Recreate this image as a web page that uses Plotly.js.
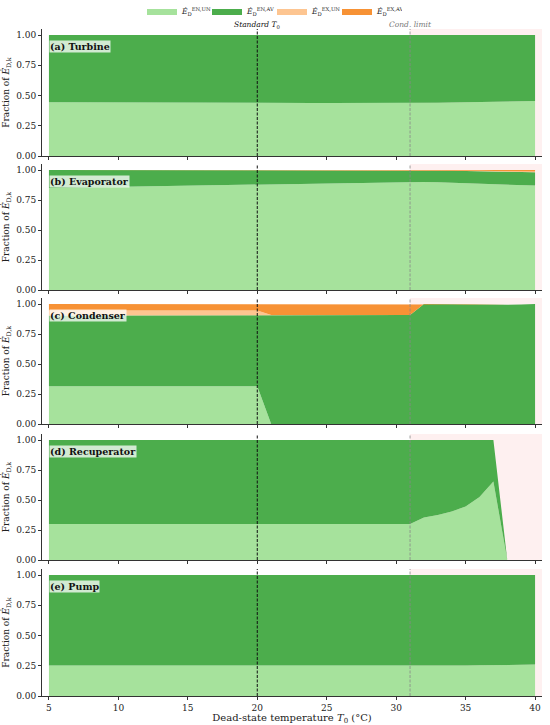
<!DOCTYPE html>
<html>
<head>
<meta charset="utf-8">
<script src="https://cdn.plot.ly/plotly-3.0.1.min.js"></script>
<style>html,body{margin:0;padding:0;background:#fff;}#chart{width:550px;height:725px;}</style>
</head>
<body>
<div id="chart"></div>
<script>
// ---- Data ----
const T0 = [5,6,7,8,9,10,11,12,13,14,15,16,17,18,19,20,21,22,23,24,25,26,27,28,29,30,31,32,33,34,35,36,37,38,39,40];

const panelLabels = ['(a) Turbine','(b) Evaporator','(c) Condenser','(d) Recuperator','(e) Pump'];
const seriesNames = ['<i>Ė</i><sub>D</sub><sup>EN,UN</sup>','<i>Ė</i><sub>D</sub><sup>EN,AV</sup>','<i>Ė</i><sub>D</sub><sup>EX,UN</sup>','<i>Ė</i><sub>D</sub><sup>EX,AV</sup>'];
const yTicks = [0, 0.25, 0.5, 0.75, 1.0];
const xTicks = [5, 10, 15, 20, 25, 30, 35, 40];

// Turbine
const turbine_EN_UN = [0.445,0.445,0.445,0.444,0.444,0.444,0.443,0.443,0.443,0.442,0.442,0.442,0.441,0.441,0.441,0.440,0.440,0.440,0.439,0.439,0.438,0.438,0.437,0.437,0.436,0.436,0.435,0.438,0.440,0.442,0.444,0.446,0.448,0.450,0.452,0.455];
const turbine_EN_AV = [0.555,0.555,0.555,0.556,0.556,0.556,0.557,0.557,0.557,0.558,0.558,0.558,0.559,0.559,0.559,0.560,0.560,0.560,0.561,0.561,0.562,0.562,0.563,0.563,0.564,0.564,0.565,0.562,0.560,0.558,0.556,0.554,0.552,0.550,0.548,0.545];
const turbine_EX_UN = [0,0,0,0,0,0,0,0,0,0,0,0,0,0,0,0,0,0,0,0,0,0,0,0,0,0,0,0,0,0,0,0,0,0,0,0];
const turbine_EX_AV = [0,0,0,0,0,0,0,0,0,0,0,0,0,0,0,0,0,0,0,0,0,0,0,0,0,0,0,0,0,0,0,0,0,0,0,0];

// Evaporator
const evap_EN_UN = [0.850,0.852,0.854,0.856,0.858,0.860,0.862,0.864,0.866,0.868,0.870,0.872,0.874,0.876,0.878,0.880,0.882,0.884,0.887,0.889,0.891,0.893,0.896,0.898,0.900,0.902,0.905,0.901,0.897,0.893,0.889,0.885,0.881,0.877,0.873,0.870];
const evap_EN_AV = [0.150,0.148,0.146,0.144,0.142,0.140,0.138,0.136,0.134,0.132,0.130,0.128,0.126,0.124,0.122,0.120,0.118,0.116,0.113,0.111,0.109,0.107,0.104,0.102,0.100,0.098,0.095,0.097,0.099,0.101,0.103,0.105,0.107,0.109,0.111,0.112];
const evap_EX_UN = [0,0,0,0,0,0,0,0,0,0,0,0,0,0,0,0,0,0,0,0,0,0,0,0,0,0,0,0.001,0.001,0.002,0.002,0.003,0.003,0.004,0.004,0.005];
const evap_EX_AV = [0,0,0,0,0,0,0,0,0,0,0,0,0,0,0,0,0,0,0,0,0,0,0,0,0,0,0,0.001,0.003,0.004,0.006,0.007,0.009,0.010,0.012,0.013];

// Condenser
const cond_EN_UN = [0.315,0.315,0.315,0.315,0.315,0.315,0.315,0.315,0.315,0.315,0.315,0.315,0.315,0.315,0.315,0.315,0,0,0,0,0,0,0,0,0,0,0,0,0,0,0,0,0,0,0,0];
const cond_EN_AV = [0.590,0.590,0.590,0.590,0.590,0.590,0.590,0.590,0.590,0.590,0.590,0.590,0.590,0.590,0.590,0.590,0.908,0.908,0.908,0.908,0.908,0.908,0.908,0.908,0.908,0.908,0.908,1.000,0.998,0.996,0.993,0.992,0.992,0.993,0.996,1.000];
const cond_EX_UN = [0.040,0.040,0.040,0.040,0.040,0.040,0.040,0.040,0.040,0.040,0.040,0.040,0.040,0.040,0.040,0.040,0,0,0,0,0,0,0,0,0,0,0,0,0,0,0,0,0,0,0,0];
const cond_EX_AV = [0.055,0.055,0.055,0.055,0.055,0.055,0.055,0.055,0.055,0.055,0.055,0.055,0.055,0.055,0.055,0.055,0.092,0.092,0.092,0.092,0.092,0.092,0.092,0.092,0.092,0.092,0.092,0,0,0,0,0,0,0,0,0];

// Recuperator
const recup_EN_UN = [0.300,0.300,0.300,0.300,0.300,0.300,0.300,0.300,0.300,0.300,0.300,0.300,0.300,0.300,0.300,0.300,0.300,0.300,0.300,0.300,0.300,0.300,0.300,0.300,0.300,0.300,0.300,0.355,0.375,0.405,0.445,0.525,0.655,0,0,0];
const recup_EN_AV = [0.700,0.700,0.700,0.700,0.700,0.700,0.700,0.700,0.700,0.700,0.700,0.700,0.700,0.700,0.700,0.700,0.700,0.700,0.700,0.700,0.700,0.700,0.700,0.700,0.700,0.700,0.700,0.645,0.625,0.595,0.555,0.475,0.345,0,0,0];
const recup_EX_UN = [0,0,0,0,0,0,0,0,0,0,0,0,0,0,0,0,0,0,0,0,0,0,0,0,0,0,0,0,0,0,0,0,0,0,0,0];
const recup_EX_AV = [0,0,0,0,0,0,0,0,0,0,0,0,0,0,0,0,0,0,0,0,0,0,0,0,0,0,0,0,0,0,0,0,0,0,0,0];

// Pump
const pump_EN_UN = [0.252,0.252,0.252,0.252,0.252,0.252,0.252,0.252,0.252,0.252,0.252,0.252,0.252,0.252,0.252,0.252,0.251,0.251,0.250,0.250,0.250,0.249,0.249,0.248,0.248,0.247,0.247,0.249,0.250,0.251,0.253,0.254,0.256,0.257,0.259,0.260];
const pump_EN_AV = [0.748,0.748,0.748,0.748,0.748,0.748,0.748,0.748,0.748,0.748,0.748,0.748,0.748,0.748,0.748,0.748,0.749,0.749,0.750,0.750,0.750,0.751,0.751,0.752,0.752,0.753,0.753,0.751,0.750,0.749,0.747,0.746,0.744,0.743,0.741,0.740];
const pump_EX_UN = [0,0,0,0,0,0,0,0,0,0,0,0,0,0,0,0,0,0,0,0,0,0,0,0,0,0,0,0,0,0,0,0,0,0,0,0];
const pump_EX_AV = [0,0,0,0,0,0,0,0,0,0,0,0,0,0,0,0,0,0,0,0,0,0,0,0,0,0,0,0,0,0,0,0,0,0,0,0];

const standardT0 = 20;
const condLimit = 31;

// ---- Build ----
const panels = [
  [turbine_EN_UN, turbine_EN_AV, turbine_EX_UN, turbine_EX_AV],
  [evap_EN_UN, evap_EN_AV, evap_EX_UN, evap_EX_AV],
  [cond_EN_UN, cond_EN_AV, cond_EX_UN, cond_EX_AV],
  [recup_EN_UN, recup_EN_AV, recup_EX_UN, recup_EX_AV],
  [pump_EN_UN, pump_EN_AV, pump_EX_UN, pump_EX_AV]
];
const colors = ['#a6e29c', '#4cad4c', '#fdc591', '#f79235'];
const FONT = 'DejaVu Serif, serif';

const H = 725, W = 550;
const M = {l: 42, r: 8, t: 28, b: 29, autoexpand: false};
// panel pixel extents [top, bottom]
const pix = [[29,156],[164,290],[298,424],[434,560],[569,696]];
const plotH = H - M.t - M.b;
const toPaper = p => (H - M.b - p) / plotH;

const traces = [];
const layout = {
  width: W, height: H,
  margin: M,
  paper_bgcolor: '#fff', plot_bgcolor: 'rgba(0,0,0,0)',
  font: {family: FONT, size: 9, color: '#222'},
  showlegend: true,
  legend: {orientation: 'h', x: 0.46, xanchor: 'center', y: 1 + 17 / plotH, yref: 'paper', yanchor: 'middle',
           font: {size: 7.5, family: FONT}, entrywidth: 20, entrywidthmode: 'pixels', itemwidth: 30,
           tracegroupgap: 0, bgcolor: 'rgba(0,0,0,0)'},
  shapes: [], annotations: []
};

panels.forEach((series, i) => {
  const n = i + 1;
  const xa = n === 1 ? 'x' : 'x' + n;
  const ya = n === 1 ? 'y' : 'y' + n;
  series.forEach((vals, j) => {
    traces.push({
      type: 'scatter', mode: 'lines', x: T0, y: vals,
      xaxis: xa, yaxis: ya,
      stackgroup: 'g' + n,
      line: {width: 0, color: colors[j]},
      fillcolor: colors[j],
      name: seriesNames[j], legendgroup: 's' + j,
      showlegend: i === 0,
      hoverinfo: 'skip'
    });
  });
  const dom = [toPaper(pix[i][1]), toPaper(pix[i][0])];
  layout['xaxis' + (n === 1 ? '' : n)] = {
    domain: [0, 1], anchor: ya, range: [4.5, 40.5],
    tickvals: xTicks, ticks: 'outside', ticklen: 3, tickcolor: '#333',
    showticklabels: n === 5, showgrid: false, zeroline: false,
    showline: true, linecolor: '#333', linewidth: 1,
    tickfont: {size: 9, family: FONT},
    title: n === 5 ? {text: 'Dead-state temperature <i>T</i><sub>0</sub> (°C)', font: {size: 10, family: FONT}, standoff: 4} : {text: ''}
  };
  layout['yaxis' + (n === 1 ? '' : n)] = {
    domain: dom, anchor: xa, range: [0, 1.05],
    tickvals: yTicks, tickformat: '.2f', ticks: 'outside', ticklen: 3, tickcolor: '#333',
    showgrid: false, zeroline: false, showline: true, linecolor: '#333', linewidth: 1,
    tickfont: {size: 9, family: FONT},
    title: {text: 'Fraction of <i>Ė</i><sub>D,k</sub>', font: {size: 9, family: FONT}, standoff: 8}
  };
  // shaded region beyond condensation limit
  layout.shapes.push({type: 'rect', xref: xa, yref: ya + ' domain', x0: condLimit, x1: 40.5, y0: 0, y1: 1,
    fillcolor: 'rgba(250,200,200,0.28)', line: {width: 0}, layer: 'below'});
  // reference lines
  layout.shapes.push({type: 'line', xref: xa, yref: ya + ' domain', x0: standardT0, x1: standardT0, y0: 0, y1: 1,
    line: {color: '#111', width: 1, dash: '3px,1.5px'}, layer: 'above'});
  layout.shapes.push({type: 'line', xref: xa, yref: ya + ' domain', x0: condLimit, x1: condLimit, y0: 0, y1: 1,
    line: {color: '#888', width: 0.8, dash: '3px,1.5px'}, layer: 'above'});
  // panel label
  layout.annotations.push({xref: xa + ' domain', yref: ya + ' domain', x: 0.013, y: 0.915, xanchor: 'left', yanchor: 'top',
    text: '<b>' + panelLabels[i] + '</b>', showarrow: false, font: {size: 9.5, family: FONT, color: '#111'},
    bgcolor: 'rgba(255,255,255,0.75)', borderpad: 0});
});

layout.annotations.push({xref: 'x', yref: 'y domain', x: standardT0, y: 1.0, yanchor: 'bottom', xanchor: 'center', yshift: -3,
  text: '<i>Standard T</i><sub>0</sub>', showarrow: false, font: {size: 7.5, family: FONT, color: '#111'}});
layout.annotations.push({xref: 'x', yref: 'y domain', x: condLimit, y: 1.0, yanchor: 'bottom', xanchor: 'center', yshift: -2,
  text: '<i>Cond. limit</i>', showarrow: false, font: {size: 7.5, family: FONT, color: '#777'}});

Plotly.newPlot('chart', traces, layout, {displayModeBar: false, staticPlot: true});
</script>
</body>
</html>
